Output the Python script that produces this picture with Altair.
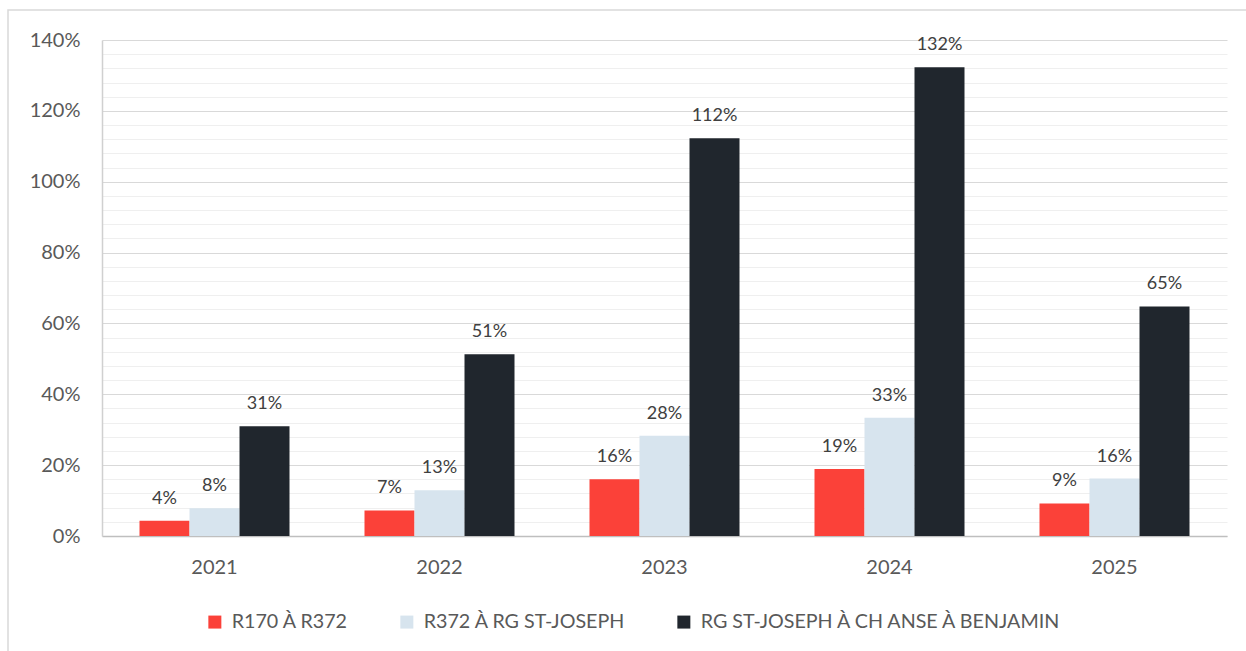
import altair as alt
import pandas as pd

# Yearly share per road segment (fraction, 1.0 = 100 %)
years = ["2021", "2022", "2023", "2024", "2025"]
series = ["R170 À R372", "R372 À RG ST-JOSEPH", "RG ST-JOSEPH À CH ANSE À BENJAMIN"]
r170_r372 = [0.043, 0.072, 0.160, 0.189, 0.092]
r372_stjoseph = [0.078, 0.129, 0.283, 0.334, 0.162]
stjoseph_benjamin = [0.310, 0.513, 1.123, 1.323, 0.648]
colors = ["#FB4139", "#D7E4EE", "#20262D"]

major_ticks = [0, 0.2, 0.4, 0.6, 0.8, 1.0, 1.2, 1.4]
minor_ticks = [i * 0.04 for i in range(36) if i % 5 != 0]

rows = []
for name, vals in zip(series, [r170_r372, r372_stjoseph, stjoseph_benjamin]):
    for yr, v in zip(years, vals):
        rows.append({"annee": yr, "troncon": name, "part": v})
df = pd.DataFrame(rows)

FONT = "Lato"
y_scale = alt.Scale(domain=[0, 1.4], nice=False, zero=True)
x_enc = alt.X(
    "annee:N",
    sort=years,
    scale=alt.Scale(paddingInner=1 / 3, paddingOuter=1 / 6),
    axis=alt.Axis(
        title=None, labelAngle=0, ticks=False, labelPadding=21,
        labelFontSize=20, labelColor="#595959", labelFont=FONT,
        domainColor="#BFBFBF", domainWidth=1.5, grid=False,
    ),
)
off_enc = alt.XOffset("troncon:N", sort=series)

# Minor gridlines every 4 %
minor = alt.Chart(df).mark_bar(opacity=0).encode(
    x=x_enc,
    xOffset=off_enc,
    y=alt.Y(
        "part:Q", scale=y_scale,
        axis=alt.Axis(
            orient="left", values=minor_ticks, labels=False, ticks=False,
            domain=False, title=None, grid=True, gridColor="#EFEFEF", gridWidth=1.2,
        ),
    ),
)

bars = alt.Chart(df).mark_bar().encode(
    x=x_enc,
    xOffset=off_enc,
    y=alt.Y(
        "part:Q", scale=y_scale,
        axis=alt.Axis(
            orient="left", values=major_ticks, format=".0%", title=None,
            ticks=False, labelPadding=22, labelFontSize=20, labelColor="#595959",
            labelFont=FONT, grid=True, gridColor="#D9D9D9", gridWidth=1.2,
            domainColor="#D0D0D0", domainWidth=1.5,
        ),
    ),
    color=alt.Color(
        "troncon:N",
        sort=series,
        scale=alt.Scale(domain=series, range=colors),
        legend=alt.Legend(
            title=None, orient="none", direction="horizontal",
            legendX=103, legendY=572, symbolType="square", symbolSize=169,
            symbolStrokeWidth=0, labelFontSize=19.7, labelColor="#595959",
            labelFont=FONT, labelOffset=7, columnPadding=48, labelLimit=600,
        ),
    ),
)

labels = alt.Chart(df).mark_text(
    baseline="alphabetic", dy=-17, fontSize=18, font=FONT, color="#404040"
).encode(
    x=x_enc,
    xOffset=off_enc,
    y=alt.Y("part:Q", scale=y_scale),
    text=alt.Text("part:Q", format=".0%"),
)

frame_df = pd.DataFrame({"k": [0]})
frame = alt.Chart(frame_df).mark_rect(
    fill="transparent", stroke="#D9D9D9", strokeWidth=1.5
).encode(
    x=alt.value(-94), x2=alt.value(1300), y=alt.value(-30), y2=alt.value(700)
)

chart = (
    alt.layer(minor, alt.layer(bars, labels), frame)
    .resolve_scale(y="independent")
    .properties(
        width=1125, height=496,
        autosize=alt.AutoSizeParams(type="none"),
        padding={"left": 102, "top": 40, "right": 19, "bottom": 115},
        background="white",
    )
    .configure_view(stroke=None)
)

chart.save("out.html", embed_options={"renderer": "svg", "actions": False})
